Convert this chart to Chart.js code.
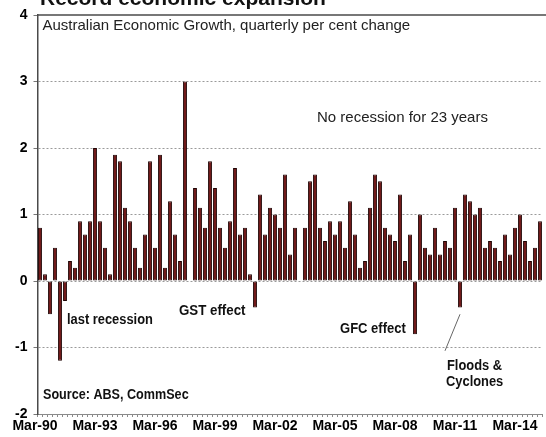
<!DOCTYPE html>
<html>
<head>
<meta charset="utf-8">
<script src="https://cdn.jsdelivr.net/npm/chart.js@4.4.1/dist/chart.umd.min.js"></script>
<style>
    html, body { margin: 0; padding: 0; background: #fff; }
    #growth { display: block; }
</style>
</head>
<body>
<canvas id="growth" width="546" height="437"></canvas>
<script>
// quarterly GDP growth, Mar-90 .. Mar-15 (per cent)
const firstYear = 1990;
const quarterNames = ['Mar', 'Jun', 'Sep', 'Dec'];
const growth = [
    0.8, 0.1, -0.5, 0.5, -1.2, -0.3, 0.3, 0.2, 0.9, 0.7,
    0.9, 2.0, 0.9, 0.5, 0.1, 1.9, 1.8, 1.1, 0.9, 0.5,
    0.2, 0.7, 1.8, 0.5, 1.9, 0.2, 1.2, 0.7, 0.3, 3.0,
    0.0, 1.4, 1.1, 0.8, 1.8, 1.4, 0.8, 0.5, 0.9, 1.7,
    0.7, 0.8, 0.1, -0.4, 1.3, 0.7, 1.1, 1.0, 0.8, 1.6,
    0.4, 0.8, 0.0, 0.8, 1.5, 1.6, 0.8, 0.6, 0.9, 0.7,
    0.9, 0.5, 1.2, 0.7, 0.2, 0.3, 1.1, 1.6, 1.5, 0.8,
    0.7, 0.6, 1.3, 0.3, 0.7, -0.8, 1.0, 0.5, 0.4, 0.8,
    0.4, 0.6, 0.5, 1.1, -0.4, 1.3, 1.2, 1.0, 1.1, 0.5,
    0.6, 0.5, 0.3, 0.7, 0.4, 0.8, 1.0, 0.6, 0.3, 0.5,
    0.9
];
const yTicks = [-2, -1, 0, 1, 2, 3, 4];
const labelEvery = 12; // Mar-90, Mar-93, ...

let quarters = [];
for (let i = 0; i < growth.length; i++) {
    let yr = firstYear + Math.floor(i / 4);
    quarters.push(quarterNames[i % 4] + '-' + String(yr % 100).padStart(2, '0'));
}

const SANS = '"Liberation Sans", Arial, sans-serif';

// bold labels in the original are condensed, so squeeze them a bit
function narrowText(ctx, text, x, y, squeeze) {
    ctx.save();
    ctx.translate(x, y);
    ctx.scale(squeeze, 1);
    ctx.fillText(text, 0, 0);
    ctx.restore();
}

// text notes, anchored in data units (category index, per cent)
const notesPlugin = {
    id: 'notes',
    afterDraw(chart) {
        const ctx = chart.ctx;
        const x = chart.scales.x, y = chart.scales.y;
        const area = chart.chartArea;
        const px = i => x.getPixelForValue(i);
        const py = v => y.getPixelForValue(v);

        ctx.save();
        // top frame line runs to the edge
        ctx.strokeStyle = '#4a4a4a';
        ctx.lineWidth = 1.5;
        ctx.beginPath();
        ctx.moveTo(area.left, area.top);
        ctx.lineTo(chart.width, area.top);
        ctx.stroke();

        ctx.fillStyle = '#111';
        ctx.textAlign = 'left';
        ctx.textBaseline = 'alphabetic';
        ctx.font = 'bold 21px ' + SANS;
        ctx.fillText('Record economic expansion', 40, 5);

        ctx.textBaseline = 'middle';
        ctx.fillStyle = '#222';
        ctx.font = '15px ' + SANS;
        ctx.fillText('Australian Economic Growth, quarterly per cent change', area.left + 5, py(3.83));
        ctx.fillText('No recession for 23 years', px(55.4), py(2.46));

        ctx.fillStyle = '#111';
        ctx.font = 'bold 14px ' + SANS;
        narrowText(ctx, 'last recession', px(5.4), py(-0.59), 0.92);
        narrowText(ctx, 'GST effect', px(27.8), py(-0.46), 0.95);
        narrowText(ctx, 'GFC effect', px(60), py(-0.73), 0.93);
        narrowText(ctx, 'Floods &', px(81.4), py(-1.28), 0.92);
        narrowText(ctx, 'Cyclones', px(81.2), py(-1.52), 0.92);
        narrowText(ctx, 'Source: ABS, CommSec', px(0.6), py(-1.71), 0.9);

        ctx.strokeStyle = '#666';
        ctx.lineWidth = 1;
        ctx.beginPath();
        ctx.moveTo(px(84), py(-0.5));
        ctx.lineTo(px(81), py(-1.05));
        ctx.stroke();
        ctx.restore();
    }
};

new Chart(document.getElementById('growth'), {
    type: 'bar',
    data: {
        labels: quarters,
        datasets: [{
            label: 'Quarterly growth',
            data: growth,
            backgroundColor: '#6a0f0f',
            borderColor: '#1e0303',
            borderWidth: 1,
            borderSkipped: false,
            barPercentage: 0.78,
            categoryPercentage: 1
        }]
    },
    options: {
        responsive: false,
        animation: false,
        layout: { padding: { top: 15, right: 3.5, left: 0, bottom: 0 } },
        plugins: {
            legend: { display: false },
            tooltip: { enabled: false }
        },
        scales: {
            x: {
                offset: true,
                ticks: {
                    autoSkip: false,
                    maxRotation: 0,
                    color: '#000',
                    padding: 1,
                    labelOffset: -5,
                    font: { family: SANS, size: 14, weight: 'bold' },
                    callback: (v, i) => i % labelEvery === 0 ? quarters[i] : ''
                },
                grid: { drawOnChartArea: false, tickLength: 3, color: '#8a8a8a' },
                border: { color: '#8a8a8a', width: 1 },
                afterFit: s => { s.height = 23; }
            },
            y: {
                min: yTicks[0],
                max: yTicks[yTicks.length - 1],
                afterBuildTicks: s => { s.ticks = yTicks.map(v => ({ value: v })); },
                ticks: {
                    color: '#000',
                    padding: 6,
                    font: { family: SANS, size: 14, weight: 'bold' }
                },
                grid: {
                    color: c => (c.tick && (c.tick.value === 4 || c.tick.value === -2)) ? 'rgba(0,0,0,0)' : '#9a9a9a',
                    tickColor: '#777',
                    tickLength: 4
                },
                border: { color: '#4a4a4a', width: 1.5, dash: [2, 2] },
                afterFit: s => { s.width = 37.5; }
            }
        }
    },
    plugins: [notesPlugin]
});
</script>
</body>
</html>
